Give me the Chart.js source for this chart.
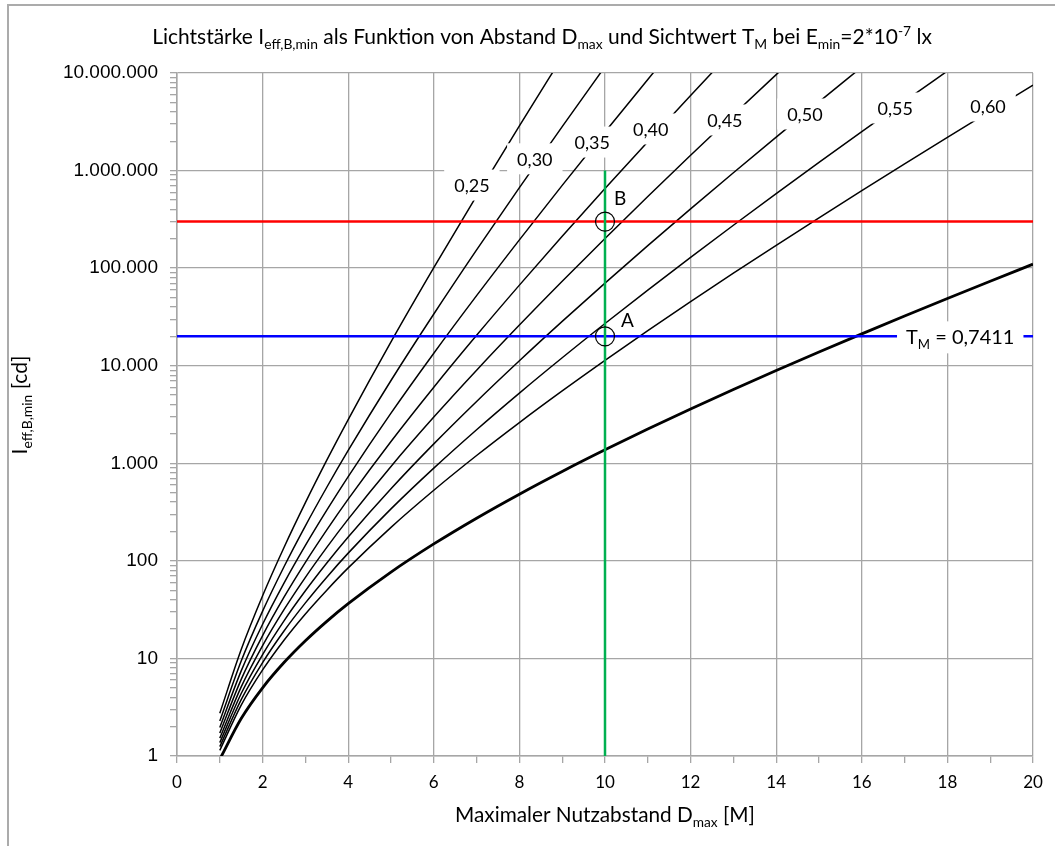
<!DOCTYPE html>
<html><head><meta charset="utf-8">
<script src="https://cdn.jsdelivr.net/npm/chart.js@4.4.1/dist/chart.umd.min.js"></script>
<style>html,body{margin:0;padding:0;background:#fff;}#wrap{width:1055px;height:846px;}</style>
</head><body><div id="wrap"><canvas id="c" width="1055" height="846"></canvas></div>
<script>
// ---- data ----
const dValues = [1,1.5,2,2.5,3,3.5,4,5,6,7,8,9,10,11,12,13,14,15,16,17,18,19,20];
const I25 = [2.744,12.35,43.9,137.2,395,1076,2809,17560,101150,550600,2876000,14560000];
const I30 = [2.286,9.39,30.5,87.0,228.6,568,1355,7057,33870,153700,669200,2823000,11620000];
const I35 = [1.960,7.45,22.39,59.2,144.0,331,731,3265,13430,52240,194900,704900,2487000,8597000,29230000];
const I40 = [1.715,6.10,17.15,42.4,96.5,207.6,428.8,1675,6028,20510,66990,211900,654200,1979000,5887000,17270000];
const I45 = [1.524,5.11,13.55,31.6,67.8,137.5,267.7,929,2974,8996,26110,73430,201400,541700,1433000,3736000,9630000,24570000];
const I50 = [1.372,4.37,10.97,24.3,49.4,95.1,175.6,548.7,1581,4302,11240,28450,70240,170000,404600,949700,2203000,5058000,11510000];
const I55 = [1.247,3.78,9.07,19.11,37.1,68.1,120.0,340.8,892,2208,5244,12070,27090,59580,128900,275100,580100,1211000,2505000,5142000,10480000];
const I60 = [1.143,3.32,7.62,15.38,28.6,50.1,84.7,220.6,529,1201,2614,5513,11340,22880,45380,88770,171600,328300,622500,1171000,2189000,4064000,7505000];
const I7411 = [0.9257,2.42,5.00,9.07,15.17,23.99,36.4,76.7,149.1,273.8,482.5,824,1373,2241,3599,5700,8914,13820,21210,32310,48890,73490,109880];

const curveLabels = ['0,25','0,30','0,35','0,40','0,45','0,50','0,55','0,60'];
const labelX = [6.89,8.36,9.70,11.07,12.80,14.67,16.78,18.95];
const labelY = [710000,1320000,1960000,2670000,3300000,3800000,4380000,4590000];

const redX = [0,20], redY = [300000,300000];
const blueX = [0,20], blueY = [20000,20000];
const greenX = [10,10], greenY = [1,1000000];
const markX = [10,10], markY = [300000,20000], markNames = ['B','A'];
const tmLabelX = 18.3, tmLabelY = 20000;

const yMajorTicks = [1,10,100,1000,10000,100000,1000000,10000000];
const yTickLabels = ['1','10','100','1.000','10.000','100.000','1.000.000','10.000.000'];
const xTickValues = [0,2,4,6,8,10,12,14,16,18,20];
const xTickLabels = ['0','2','4','6','8','10','12','14','16','18','20'];

// ---- helpers ----
function pts(xs, ys){ return ys.map((y,i)=>({x:xs[i], y})); }
function richMeasure(ctx, parts, size, fam){
  let w=0; parts.forEach(([t,m])=>{ const fs=m==='n'?size:size*0.66; ctx.font=fs+'px '+fam; w+=ctx.measureText(t).width; }); return w;
}
function drawRich(ctx, parts, size, fam, x0, base){
  let x=x0;
  parts.forEach(([t,m])=>{
    const fs=m==='n'?size:size*0.66; ctx.font=fs+'px '+fam;
    const dy = m==='sub'? size*0.25 : (m==='sup'? -size*0.4 : 0);
    ctx.fillText(t, x, base+dy); x+=ctx.measureText(t).width;
  });
}

const GRID='#a6a6a6';
const curveSets = [I25,I30,I35,I40,I45,I50,I55,I60].map((arr,i)=>({
  data: pts(dValues, arr), borderColor:'#000', borderWidth:1.5, pointRadius:0,
  cubicInterpolationMode:'monotone', fill:false, order:10
}));
curveSets.push({data: pts(dValues, I7411), borderColor:'#000', borderWidth:2.8, pointRadius:0, cubicInterpolationMode:'monotone', fill:false, order:9});

const datasets = [
  {data: pts(markX, markY), showLine:false, pointRadius:9.5, pointHoverRadius:9.5, pointBorderColor:'#000', pointBackgroundColor:'rgba(0,0,0,0)', pointBorderWidth:1.2, order:0},
  {data: pts(greenX, greenY), borderColor:'#00b050', borderWidth:2.5, pointRadius:0, order:1},
  {data: pts(redX, redY), borderColor:'#ff0000', borderWidth:2.5, pointRadius:0, order:2},
  {data: pts(blueX, blueY), borderColor:'#0000ff', borderWidth:2.5, pointRadius:0, order:2},
  ...curveSets
];

const overlay = {
  id:'overlay',
  afterDatasetsDraw(chart){
    const {ctx, scales:{x,y}} = chart;
    ctx.save();
    ctx.textAlign='center'; ctx.textBaseline='middle';
    ctx.font='18px Lato';
    curveLabels.forEach((t,i)=>{
      const px=x.getPixelForValue(labelX[i]), py=y.getPixelForValue(labelY[i]);
      const w=ctx.measureText(t).width+20, h=31;
      ctx.fillStyle='#fff'; ctx.fillRect(px-w/2, py-h/2, w, h);
      ctx.fillStyle='#000'; ctx.fillText(t, px, py+1);
    });
    // A / B letters
    ctx.font='19px Lato'; ctx.textAlign='left'; ctx.textBaseline='alphabetic';
    const offs=[[9,-17],[16,-9]];
    markNames.forEach((n,i)=>{
      const px=x.getPixelForValue(markX[i]), py=y.getPixelForValue(markY[i]);
      ctx.fillText(n, px+offs[i][0], py+offs[i][1]);
    });
    // T_M label
    const parts=[['T','n'],['M','sub'],[' = 0,7411','n']];
    const fs=20, w=richMeasure(ctx, parts, fs, 'Lato');
    const px=x.getPixelForValue(tmLabelX), py=y.getPixelForValue(tmLabelY);
    ctx.fillStyle='#fff'; ctx.fillRect(px-w/2-9, py-15, w+18, 32);
    ctx.fillStyle='#000'; ctx.textAlign='left';
    drawRich(ctx, parts, fs, 'Lato', px-w/2, py+8);
    ctx.restore();
  },
  afterDraw(chart){
    const ctx=chart.ctx;
    ctx.save();
    ctx.strokeStyle='#ababab'; ctx.lineWidth=2;
    ctx.beginPath(); ctx.moveTo(8,900); ctx.lineTo(8,5); ctx.lineTo(1100,5); ctx.stroke();
    ctx.fillStyle='#000'; ctx.textAlign='left'; ctx.textBaseline='alphabetic';
    // title
    const tParts=[['Lichtstärke I','n'],['eff,B,min','sub'],[' als Funktion von Abstand D','n'],['max','sub'],[' und Sichtwert T','n'],['M','sub'],[' bei E','n'],['min','sub'],['=2*10','n'],['-7','sup'],[' lx','n']];
    let fs=16; let w=richMeasure(ctx,tParts,fs,'Lato'); fs=Math.max(14,Math.min(23,fs*780/w)); w=richMeasure(ctx,tParts,fs,'Lato');
    drawRich(ctx,tParts,fs,'Lato',542-w/2,44);
    // x title
    const xParts=[['Maximaler Nutzabstand D','n'],['max','sub'],[' [M]','n']];
    let xs=17; let xw=richMeasure(ctx,xParts,xs,'Lato'); xs=Math.max(14,Math.min(23,xs*300/xw)); xw=richMeasure(ctx,xParts,xs,'Lato');
    drawRich(ctx,xParts,xs,'Lato',605-xw/2,822);
    // y title
    const yParts=[['I','n'],['eff,B,min','sub'],[' [cd]','n']];
    const ys=21; const yw=richMeasure(ctx,yParts,ys,'Lato');
    ctx.translate(20,405); ctx.rotate(-Math.PI/2);
    drawRich(ctx,yParts,ys,'Lato',-yw/2,7);
    ctx.restore();
  }
};

new Chart(document.getElementById('c'), {
  type:'line',
  data:{datasets},
  options:{
    responsive:false, animation:false, devicePixelRatio:1,
    layout:{padding:{top:73,right:22,left:0,bottom:0}},
    plugins:{legend:{display:false}, tooltip:{enabled:false}, title:{display:false}},
    scales:{
      x:{type:'linear', min:0, max:20,
        ticks:{stepSize:1, autoSkip:false, maxRotation:0, padding:9, color:'#000', font:{family:'Lato', size:17},
          callback:(v)=>{const i=xTickValues.indexOf(v); return i>=0?xTickLabels[i]:'';}},
        grid:{color:(c)=> (c.tick && xTickValues.indexOf(c.tick.value)>=0)?GRID:'rgba(0,0,0,0)', tickColor:GRID, tickLength:7, lineWidth:1.3},
        border:{color:GRID, width:1.5},
        afterFit:(s)=>{s.height=90;}
      },
      y:{type:'logarithmic', min:1, max:10000000,
        afterBuildTicks:(s)=>{ const t=[]; yMajorTicks.forEach((m,i)=>{ t.push({value:m, major:true}); if(i<yMajorTicks.length-1){ for(let k=2;k<10;k++) t.push({value:m*k, major:false}); } }); s.ticks=t; },
        ticks:{autoSkip:false, padding:12, color:'#000', font:{family:'Liberation Sans', size:19},
          callback:(v)=>{const i=yMajorTicks.indexOf(v); return i>=0?yTickLabels[i]:'';}},
        grid:{color:(c)=> (c.tick && yMajorTicks.indexOf(c.tick.value)>=0)?GRID:'rgba(0,0,0,0)', tickColor:GRID, tickLength:7, lineWidth:1.3},
        border:{color:GRID, width:1.5},
        afterFit:(s)=>{s.width=177;}
      }
    }
  },
  plugins:[overlay]
});
</script></body></html>
